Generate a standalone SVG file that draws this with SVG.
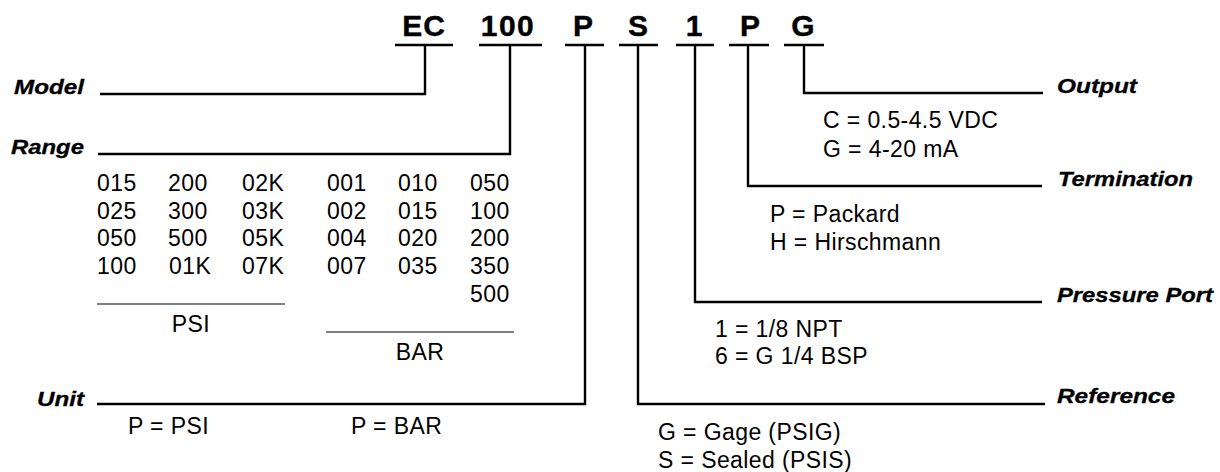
<svg xmlns="http://www.w3.org/2000/svg" width="1220" height="472" viewBox="0 0 1220 472">
<style>
.code{font-family:"Liberation Sans",Arial,sans-serif;font-weight:bold;font-size:30px;fill:#000;stroke:#000;stroke-width:0.4}
.lbl{font-family:"Liberation Sans",Arial,sans-serif;font-weight:bold;font-style:italic;font-size:21px;fill:#000;stroke:#000;stroke-width:0.3}
.txt{font-family:"Liberation Sans",Arial,sans-serif;font-size:23px;letter-spacing:0.4px;fill:#000}
.ln{stroke:#000;stroke-width:2.4;fill:none}
.sub{stroke:#555;stroke-width:1.6;fill:none}
</style>
<rect width="1220" height="472" fill="#fff"/>
<g id="header">
<text class="code" x="424" y="36" text-anchor="middle" letter-spacing="1">EC</text>
<text class="code" x="508" y="36" text-anchor="middle" letter-spacing="1.5">100</text>
<text class="code" x="583" y="36" text-anchor="middle">P</text>
<text class="code" x="638" y="36" text-anchor="middle">S</text>
<text class="code" x="694" y="36" text-anchor="middle">1</text>
<text class="code" x="750" y="36" text-anchor="middle">P</text>
<text class="code" x="803" y="36" text-anchor="middle">G</text>
</g>
<g id="connectors">
<path class="ln" d="M395 45H453M479 45H542M565 45H604M619 45H658M676 45H714M729 45H769M784 45H824"/>
<path class="ln" d="M425 45V94H100"/>
<path class="ln" d="M510 45V154H98"/>
<path class="ln" d="M585 45V404H97"/>
<path class="ln" d="M638 45V404H1045"/>
<path class="ln" d="M695 45V302H1042"/>
<path class="ln" d="M748 45V186H1042"/>
<path class="ln" d="M804 45V93H1043"/>
</g>
<g id="model">
<text class="lbl" x="84" y="94" text-anchor="end" textLength="70" lengthAdjust="spacingAndGlyphs">Model</text>
</g>
<g id="range">
<text class="lbl" x="84" y="154" text-anchor="end" textLength="73" lengthAdjust="spacingAndGlyphs">Range</text>
<g class="txt">
<text x="97" y="191">015</text><text x="168" y="191">200</text><text x="242" y="191">02K</text>
<text x="327" y="191">001</text><text x="398" y="191">010</text><text x="470" y="191">050</text>
<text x="97" y="218.5">025</text><text x="168" y="218.5">300</text><text x="242" y="218.5">03K</text>
<text x="327" y="218.5">002</text><text x="398" y="218.5">015</text><text x="470" y="218.5">100</text>
<text x="97" y="246">050</text><text x="168" y="246">500</text><text x="242" y="246">05K</text>
<text x="327" y="246">004</text><text x="398" y="246">020</text><text x="470" y="246">200</text>
<text x="97" y="274">100</text><text x="169" y="274">01K</text><text x="242" y="274">07K</text>
<text x="327" y="274">007</text><text x="398" y="274">035</text><text x="470" y="274">350</text>
<text x="470" y="302">500</text>
<text x="191" y="332" text-anchor="middle">PSI</text>
<text x="420" y="360" text-anchor="middle">BAR</text>
</g>
<path class="sub" d="M97 304H285M326 332H514"/>
</g>
<g id="unit">
<text class="lbl" x="84" y="406" text-anchor="end" textLength="47" lengthAdjust="spacingAndGlyphs">Unit</text>
<text class="txt" x="128" y="434">P = PSI</text>
<text class="txt" x="351" y="434">P = BAR</text>
</g>
<g id="reference">
<text class="lbl" x="1057" y="403" textLength="118" lengthAdjust="spacingAndGlyphs">Reference</text>
<text class="txt" x="658" y="440">G = Gage (PSIG)</text>
<text class="txt" x="658" y="468">S = Sealed (PSIS)</text>
</g>
<g id="pressure-port">
<text class="lbl" x="1057" y="302" textLength="156" lengthAdjust="spacingAndGlyphs">Pressure Port</text>
<text class="txt" x="715" y="337">1 = 1/8 NPT</text>
<text class="txt" x="715" y="364">6 = G 1/4 BSP</text>
</g>
<g id="termination">
<text class="lbl" x="1058" y="186" textLength="135" lengthAdjust="spacingAndGlyphs">Termination</text>
<text class="txt" x="770" y="222">P = Packard</text>
<text class="txt" x="770" y="250">H = Hirschmann</text>
</g>
<g id="output">
<text class="lbl" x="1057" y="93" textLength="80" lengthAdjust="spacingAndGlyphs">Output</text>
<text class="txt" x="823" y="128">C = 0.5-4.5 VDC</text>
<text class="txt" x="823" y="157">G = 4-20 mA</text>
</g>
</svg>
